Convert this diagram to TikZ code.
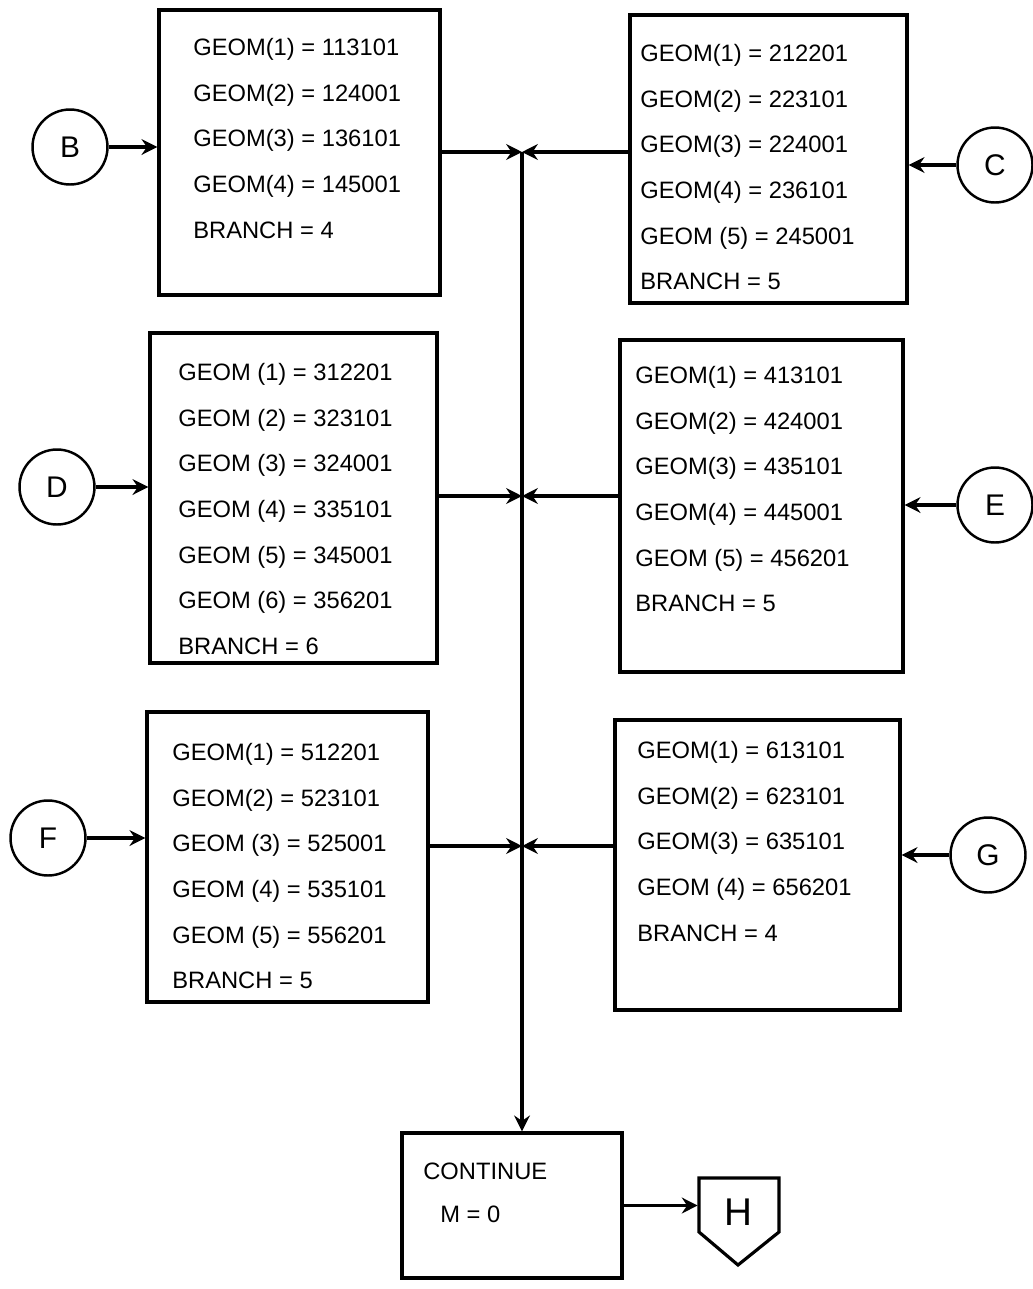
\documentclass[tikz,border=0pt]{standalone}
\usepackage{fontspec}
\setmainfont{Liberation Sans}
\usetikzlibrary{positioning,arrows.meta,calc}

\begin{document}
\begin{tikzpicture}[x=0.02cm,y=-0.02cm,
  geombox/.style={rectangle,draw,line width=1.9pt,inner sep=0pt},
  geomtext/.style={anchor=north west,inner sep=0pt,align=left,font=\fontsize{13.5}{26}\selectfont},
  entry/.style={circle,draw,line width=1.4pt,minimum size=1.5cm,inner sep=0pt,font=\fontsize{17}{20}\selectfont},
  arr/.style={-{Stealth[length=9pt,width=9pt,inset=3pt]},line width=1.8pt},
  flow/.style={line width=1.8pt},
]
\useasboundingbox (0,0) rectangle (1033,1289);

% === top row: B and C ===
\node[entry] (cB) at (70,147) {B};
\node[geombox,minimum width=5.62cm,minimum height=5.7cm] (bB) at (299.5,152.5) {};
\node[geomtext] (tB) at (193,38) {GEOM(1) = 113101\\GEOM(2) = 124001\\GEOM(3) = 136101\\GEOM(4) = 145001\\BRANCH = 4};

\node[entry] (cC) at (995,165) {C};
\node[geombox,minimum width=5.54cm,minimum height=5.76cm] (bC) at (768.5,159) {};
\node[geomtext] (tC) at (640,44) {GEOM(1) = 212201\\GEOM(2) = 223101\\GEOM(3) = 224001\\GEOM(4) = 236101\\GEOM (5) = 245001\\BRANCH = 5};

% === middle row: D and E ===
\node[entry] (cD) at (57,487) {D};
\node[geombox,minimum width=5.74cm,minimum height=6.6cm] (bD) at (293.5,498) {};
\node[geomtext] (tD) at (178,363) {GEOM (1) = 312201\\GEOM (2) = 323101\\GEOM (3) = 324001\\GEOM (4) = 335101\\GEOM (5) = 345001\\GEOM (6) = 356201\\BRANCH = 6};

\node[entry] (cE) at (995,505) {E};
\node[geombox,minimum width=5.66cm,minimum height=6.64cm] (bE) at (761.5,506) {};
\node[geomtext] (tE) at (635,366) {GEOM(1) = 413101\\GEOM(2) = 424001\\GEOM(3) = 435101\\GEOM(4) = 445001\\GEOM (5) = 456201\\BRANCH = 5};

% === bottom row: F and G ===
\node[entry] (cF) at (48,838) {F};
\node[geombox,minimum width=5.62cm,minimum height=5.8cm] (bF) at (287.5,857) {};
\node[geomtext] (tF) at (172,743) {GEOM(1) = 512201\\GEOM(2) = 523101\\GEOM (3) = 525001\\GEOM (4) = 535101\\GEOM (5) = 556201\\BRANCH = 5};

\node[entry] (cG) at (988,855) {G};
\node[geombox,minimum width=5.7cm,minimum height=5.8cm] (bG) at (757.5,865) {};
\node[geomtext] (tG) at (637,741) {GEOM(1) = 613101\\GEOM(2) = 623101\\GEOM(3) = 635101\\GEOM (4) = 656201\\BRANCH = 4};

% === continue and exit ===
\node[geombox,minimum width=4.4cm,minimum height=2.9cm] (cont) at (512,1205.5) {};
\node[geomtext,font=\fontsize{13.5}{24.4}\selectfont] (tcont) at (423,1163) {CONTINUE\\\hspace*{0.34cm}M = 0};
\node[minimum width=1.6cm,inner sep=0pt,font=\fontsize{22}{24}\selectfont] (H) at (738,1212) {H};
\draw[flow] ($(H)+(-39,-34)$) -- ($(H)+(41,-34)$) -- ($(H)+(41,20)$) -- ($(H)+(0,53)$) -- ($(H)+(-39,20)$) -- cycle;

% junctions on the collecting line
\coordinate (j1) at (522,152);
\coordinate (j2) at (522,496);
\coordinate (j3) at (522,846);

% Entry arrows
\draw[arr] (cB.east) -- (cB.east -| bB.west);
\draw[arr] (cD.east) -- (cD.east -| bD.west);
\draw[arr] (cF.east) -- (cF.east -| bF.west);
\draw[arr] (cC.west) -- (cC.west -| bC.east);
\draw[arr] (cE.west) -- (cE.west -| bE.east);
\draw[arr] (cG.west) -- (cG.west -| bG.east);

% Boxes into the collecting line
\draw[arr] (bB.east |- j1) -- (j1);
\draw[arr] (bC.west |- j1) -- (j1);
\draw[arr] (bD.east |- j2) -- (j2);
\draw[arr] (bE.west |- j2) -- (j2);
\draw[arr] (bF.east |- j3) -- (j3);
\draw[arr] (bG.west |- j3) -- (j3);
\draw[arr] (j1) -- (j1 |- cont.north);
\draw[arr] (cont.east) -- (cont.east -| H.west);

\end{tikzpicture}
\end{document}
